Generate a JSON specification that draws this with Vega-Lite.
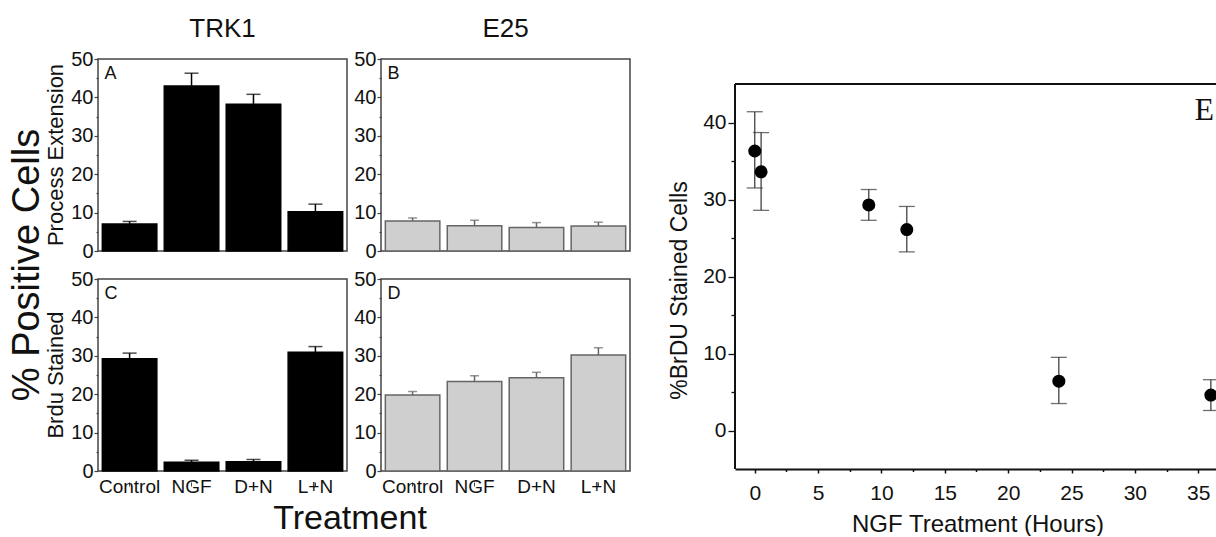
{
  "$schema": "https://vega.github.io/schema/vega-lite/v6.json",
  "background": "white",
  "padding": {"left": 8, "top": 16, "right": 0, "bottom": 0},
  "config": {
    "font": "Liberation Sans",
    "view": {"stroke": "#444", "strokeWidth": 1.5},
    "axis": {"labelFont": "Liberation Sans", "titleFont": "Liberation Sans", "labelColor": "#111", "titleColor": "#111", "titleFontWeight": "normal", "grid": false, "labelOverlap": false},
    "header": {"labelFont": "Liberation Sans", "titleFont": "Liberation Sans", "labelColor": "#111", "titleColor": "#111", "titleFontWeight": "normal", "labelFontWeight": "normal"},
    "title": {"font": "Liberation Sans", "fontWeight": "normal", "color": "#111"}
  },
  "datasets": {
    "bars": [
      {"cell": "TRK1", "measure": "Process Extension", "letter": "A", "treatment": "Control", "value": 7.0, "upper": 7.7},
      {"cell": "TRK1", "measure": "Process Extension", "letter": "A", "treatment": "NGF", "value": 43.0, "upper": 46.3},
      {"cell": "TRK1", "measure": "Process Extension", "letter": "A", "treatment": "D+N", "value": 38.2, "upper": 40.8},
      {"cell": "TRK1", "measure": "Process Extension", "letter": "A", "treatment": "L+N", "value": 10.2, "upper": 12.2},
      {"cell": "E25", "measure": "Process Extension", "letter": "B", "treatment": "Control", "value": 7.8, "upper": 8.6},
      {"cell": "E25", "measure": "Process Extension", "letter": "B", "treatment": "NGF", "value": 6.6, "upper": 8.0},
      {"cell": "E25", "measure": "Process Extension", "letter": "B", "treatment": "D+N", "value": 6.1, "upper": 7.4},
      {"cell": "E25", "measure": "Process Extension", "letter": "B", "treatment": "L+N", "value": 6.5, "upper": 7.5},
      {"cell": "TRK1", "measure": "Brdu Stained", "letter": "C", "treatment": "Control", "value": 29.2, "upper": 30.7},
      {"cell": "TRK1", "measure": "Brdu Stained", "letter": "C", "treatment": "NGF", "value": 2.3, "upper": 2.8},
      {"cell": "TRK1", "measure": "Brdu Stained", "letter": "C", "treatment": "D+N", "value": 2.4, "upper": 3.0},
      {"cell": "TRK1", "measure": "Brdu Stained", "letter": "C", "treatment": "L+N", "value": 30.9, "upper": 32.4},
      {"cell": "E25", "measure": "Brdu Stained", "letter": "D", "treatment": "Control", "value": 19.8, "upper": 20.7},
      {"cell": "E25", "measure": "Brdu Stained", "letter": "D", "treatment": "NGF", "value": 23.3, "upper": 24.8},
      {"cell": "E25", "measure": "Brdu Stained", "letter": "D", "treatment": "D+N", "value": 24.3, "upper": 25.7},
      {"cell": "E25", "measure": "Brdu Stained", "letter": "D", "treatment": "L+N", "value": 30.2, "upper": 32.1}
    ],
    "hours": [
      {"hours": 0, "value": 36.3, "lower": 31.5, "upper": 41.4},
      {"hours": 0.5, "value": 33.6, "lower": 28.6, "upper": 38.7},
      {"hours": 9, "value": 29.3, "lower": 27.3, "upper": 31.3},
      {"hours": 12, "value": 26.1, "lower": 23.2, "upper": 29.1},
      {"hours": 24, "value": 6.4, "lower": 3.5, "upper": 9.5},
      {"hours": 36, "value": 4.6, "lower": 2.6, "upper": 6.6}
    ]
  },
  "spacing": 37,
  "hconcat": [
    {
      "data": {"name": "bars"},
      "spacing": {"row": 6, "column": 5},
      "resolve": {"axis": {"y": "independent"}},
      "facet": {
        "row": {"field": "measure", "type": "nominal", "sort": ["Process Extension", "Brdu Stained"], "title": "% Positive Cells",
          "header": {"labelOrient": "left", "labelAngle": -90, "labelFontSize": 22, "labelPadding": -8, "titleOrient": "left", "titleFontSize": 38, "titlePadding": -13}},
        "column": {"field": "cell", "type": "nominal", "sort": ["TRK1", "E25"], "title": "Treatment",
          "header": {"labelOrient": "top", "labelFontSize": 26, "labelPadding": 6, "titleOrient": "bottom", "titleFontSize": 34, "titlePadding": -4}}
      },
      "spec": {
        "width": 249, "height": 192,
        "encoding": {
          "x": {"field": "treatment", "type": "nominal", "title": null, "scale": {"domain": ["Control", "NGF", "D+N", "L+N"], "paddingInner": 0.12, "paddingOuter": 0.07}, "axis": {"labelAngle": 0, "labelFontSize": 19, "labelPadding": -9, "domain": false, "tickSize": 4, "tickColor": "#444"}}
        },
        "layer": [
          {"mark": {"type": "bar", "strokeWidth": 1.5}, "encoding": {
            "y": {"field": "value", "type": "quantitative", "title": null, "scale": {"domain": [0, 50], "nice": false}, "axis": {"values": [0, 5, 10, 15, 20, 25, 30, 35, 40, 45, 50], "tickCount": 30, "labelOverlap": false, "labelExpr": "datum.value % 10 === 0 ? datum.label : ''", "tickSize": {"condition": {"test": "datum.value % 10 === 0", "value": 4}, "value": 2}, "labelPadding": 1, "labelFontSize": 20, "domain": false, "tickColor": "#444", "tickWidth": 1.2}},
            "color": {"field": "cell", "type": "nominal", "scale": {"domain": ["TRK1", "E25"], "range": ["#000000", "#cfcfcf"]}, "legend": null},
            "stroke": {"field": "cell", "type": "nominal", "scale": {"domain": ["TRK1", "E25"], "range": ["#000000", "#666666"]}, "legend": null}
          }},
          {"mark": {"type": "rule", "strokeWidth": 1.5}, "encoding": {
            "y": {"field": "value", "type": "quantitative", "title": null}, "y2": {"field": "upper"},
            "stroke": {"field": "cell", "type": "nominal", "scale": {"domain": ["TRK1", "E25"], "range": ["#000000", "#666666"]}, "legend": null}
          }},
          {"mark": {"type": "tick", "orient": "horizontal", "thickness": 1.5}, "encoding": {
            "y": {"field": "upper", "type": "quantitative", "title": null},
            "fill": {"field": "cell", "type": "nominal", "scale": {"domain": ["TRK1", "E25"], "range": ["#000000", "#666666"]}, "legend": null},
            "size": {"field": "cell", "type": "ordinal", "scale": {"domain": ["TRK1", "E25"], "range": [14, 9]}, "legend": null}
          }},
          {"transform": [{"filter": "datum.treatment === 'Control'"}], "mark": {"type": "text", "align": "left", "baseline": "top", "fontSize": 18, "dx": -25, "dy": 6, "color": "#111"}, "encoding": {
            "y": {"datum": 50, "type": "quantitative", "title": null},
            "text": {"field": "letter"}
          }}
        ]
      }
    },
    {
      "width": 485, "height": 410,
      "view": {"stroke": null},
      "data": {"name": "hours"},
      "layer": [
        {"data": {"values": [{"edge": "top"}]}, "mark": {"type": "rule", "color": "#111", "strokeWidth": 2}, "encoding": {"y": {"datum": 45, "type": "quantitative", "title": "%BrDU Stained Cells"}}},
        {"data": {"values": [{"edge": "left"}]}, "mark": {"type": "rule", "color": "#111", "strokeWidth": 2}, "encoding": {"x": {"datum": -1.56, "type": "quantitative", "title": "NGF Treatment (Hours)"}, "y": {"datum": -5, "type": "quantitative", "title": "%BrDU Stained Cells"}, "y2": {"datum": 45}}},
        {"mark": {"type": "rule", "color": "#333", "strokeWidth": 1.2}, "encoding": {"x": {"field": "hours", "type": "quantitative", "title": "NGF Treatment (Hours)"}, "y": {"field": "lower", "type": "quantitative", "title": "%BrDU Stained Cells"}, "y2": {"field": "upper"}}},
        {"mark": {"type": "tick", "orient": "horizontal", "size": 16, "thickness": 1.3, "color": "#333"}, "encoding": {"x": {"field": "hours", "type": "quantitative", "title": "NGF Treatment (Hours)"}, "y": {"field": "upper", "type": "quantitative", "title": "%BrDU Stained Cells"}}},
        {"mark": {"type": "tick", "orient": "horizontal", "size": 16, "thickness": 1.3, "color": "#333"}, "encoding": {"x": {"field": "hours", "type": "quantitative", "title": "NGF Treatment (Hours)"}, "y": {"field": "lower", "type": "quantitative", "title": "%BrDU Stained Cells"}}},
        {"mark": {"type": "point", "filled": true, "size": 170, "color": "#000", "opacity": 1}, "encoding": {
          "x": {"field": "hours", "type": "quantitative", "title": "NGF Treatment (Hours)", "scale": {"domain": [-1.56, 36.72], "nice": false, "zero": false}, "axis": {"values": [0, 2.5, 5, 7.5, 10, 12.5, 15, 17.5, 20, 22.5, 25, 27.5, 30, 32.5, 35], "tickCount": 40, "labelOverlap": false, "labelExpr": "datum.value % 5 === 0 ? datum.label : ''", "tickSize": {"condition": {"test": "datum.value % 5 === 0", "value": 4}, "value": 2.5}, "tickColor": "#111", "tickWidth": 1.5, "labelPadding": 9, "labelFontSize": 21, "titleFontSize": 24, "titlePadding": 9, "domain": true, "domainColor": "#111", "domainWidth": 2}},
          "y": {"field": "value", "type": "quantitative", "title": "%BrDU Stained Cells", "scale": {"domain": [-5, 48.25], "nice": false, "zero": false}, "axis": {"values": [0, 5, 10, 15, 20, 25, 30, 35, 40], "tickCount": 40, "labelOverlap": false, "labelExpr": "datum.value % 10 === 0 ? datum.label : ''", "tickSize": {"condition": {"test": "datum.value % 10 === 0", "value": 7}, "value": 4}, "tickColor": "#111", "tickWidth": 1.3, "labelPadding": 2, "labelFontSize": 21, "titleFontSize": 23, "titlePadding": 11, "titleY": 231, "domain": false}}
        }},
        {"data": {"values": [{"label": "E"}]}, "mark": {"type": "text", "font": "Liberation Serif", "fontSize": 32, "align": "right", "baseline": "top", "dx": -6, "dy": 11, "color": "#111"}, "encoding": {"x": {"datum": 36.72, "type": "quantitative", "title": "NGF Treatment (Hours)"}, "y": {"datum": 45, "type": "quantitative", "title": "%BrDU Stained Cells"}, "text": {"field": "label"}}}
      ]
    }
  ]
}
